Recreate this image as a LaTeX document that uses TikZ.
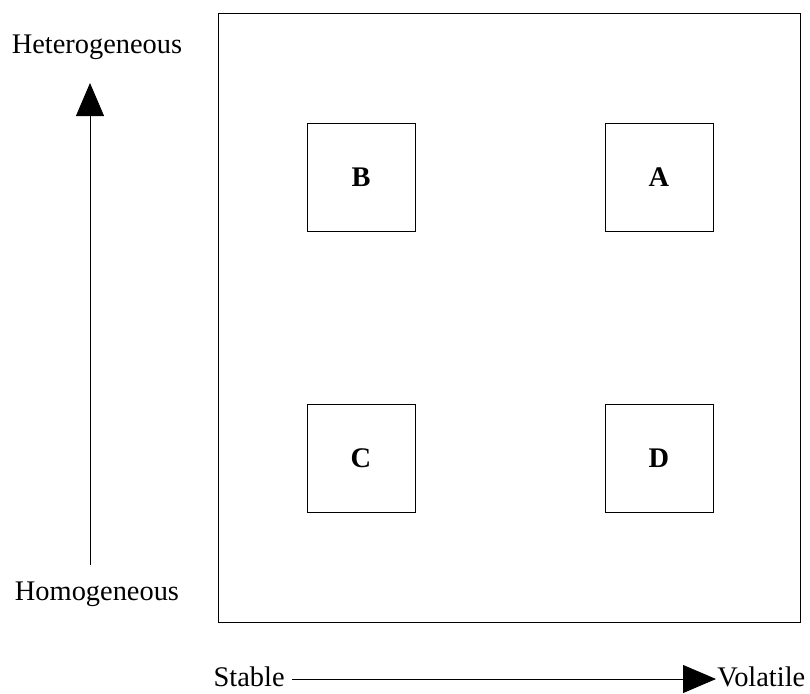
\documentclass[tikz,border=0pt]{standalone}
\usepackage{fontspec}
\setmainfont{Liberation Serif}
\usetikzlibrary{arrows.meta, positioning}

\begin{document}
\begin{tikzpicture}[
    x=0.5pt, y=-0.5pt,
    every node/.style={font=\fontsize{14.2}{17}\selectfont},
    quad/.style={rectangle, draw, thin, minimum width=54pt, minimum height=54pt, font=\fontsize{14.2}{17}\selectfont\bfseries},
    axis/.style={-{Triangle[length=16.5pt, width=14pt]}, thin},
    axlabel/.style={inner sep=0.5pt}
]
\useasboundingbox (0,0) rectangle (810,693);

% ============ FRAME ============
\draw[thin] (218,13) rectangle (800,622);

% ============ QUADRANTS ============
\node[quad] (qB) at (361,177) {B};
\node[quad] (qA) at (659,177) {A};
\node[quad] (qC) at (361,458) {C};
\node[quad] (qD) at (659,458) {D};

% ============ VERTICAL AXIS ============
\node[axlabel, anchor=base] (hetero) at (97,53) {Heterogeneous};
\node[axlabel, anchor=base] (homo) at (97,600) {Homogeneous};
\coordinate (ylo) at (90,565);
\coordinate (yhi) at (90,83);
\draw[axis] (ylo) -- (yhi);

% ============ HORIZONTAL AXIS ============
\node[axlabel, anchor=base east] (stable) at (286,686) {Stable};
\node[axlabel, anchor=base west] (volatile) at (716,686) {Volatile};
\coordinate (xrow) at (0,679);
\draw[axis] ([xshift=3pt]stable.east |- xrow) -- (volatile.west |- xrow);

\end{tikzpicture}
\end{document}
